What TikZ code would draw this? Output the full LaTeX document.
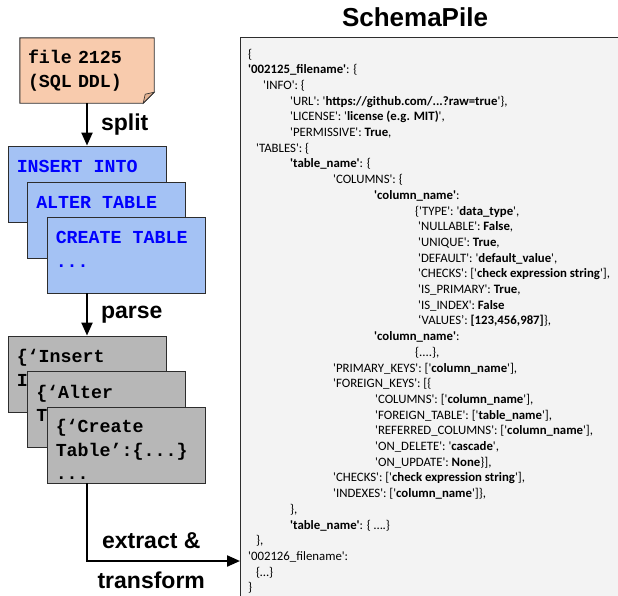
\documentclass[tikz,border=0pt]{standalone}
\usepackage{fontspec}
\setmainfont{Liberation Sans}
\newfontfamily\stmtfont{Liberation Mono}
\newfontfamily\jsonfont{Carlito}
\usetikzlibrary{arrows.meta,positioning,backgrounds}
\definecolor{fileOrange}{RGB}{248,203,173}
\definecolor{fileFold}{RGB}{226,178,146}
\definecolor{stmtBlue}{RGB}{164,194,244}
\definecolor{dictGray}{RGB}{183,183,183}
\definecolor{panelGray}{RGB}{243,243,243}
\definecolor{edgeGray}{RGB}{45,45,45}
\newcommand{\jb}[1]{\textbf{#1}}
\newcommand{\jind}[1]{\hspace*{#1pt}}

\begin{document}
\begin{tikzpicture}[
  x=1pt, y=-1pt,
  stack/.style={draw=edgeGray,line width=0.9pt,minimum width=158pt,minimum height=76pt,inner sep=0pt},
  stmt/.style={stack,fill=stmtBlue},
  dict/.style={stack,fill=dictGray},
  mono/.style={font=\stmtfont\bfseries\fontsize{18.3}{23.5}\selectfont,align=left,inner sep=0pt},
  stmttxt/.style={mono,text=blue},
  lbl/.style={font=\bfseries\fontsize{23}{26}\selectfont,inner sep=0pt},
  arrow/.style={-{Triangle[length=13pt,width=11pt]},line width=2.2pt}
]
\useasboundingbox (0,0) rectangle (618,595);

% input file
\node[mono,minimum width=134pt,minimum height=65pt,text width=118pt,inner sep=8pt] (file) at (87,70.5) {file 2125\\(SQL DDL)};
\begin{scope}[on background layer]
\filldraw[draw=edgeGray,line width=0.9pt,fill=fileOrange] (file.north west) -- (file.north east) -- ([yshift=11pt]file.south east) -- ([xshift=-11pt]file.south east) -- (file.south west) -- cycle;
\filldraw[draw=edgeGray,line width=0.6pt,fill=fileFold] ([yshift=11pt]file.south east) -- ([xshift=-11pt]file.south east) -- ([xshift=-9pt,yshift=9pt]file.south east) -- cycle;
\end{scope}

% split statements (text anchored at the baseline of its last line)
\node[stmt] (s1) at (87,184) {};
\node[stmttxt,anchor=base west] (s1t) at ([xshift=9pt,yshift=-27pt]s1.north west) {INSERT INTO};
\node[stmt] (s2) at (106.5,220) {};
\node[stmttxt,anchor=base west] (s2t) at ([xshift=9pt,yshift=-27pt]s2.north west) {ALTER TABLE};
\node[stmt] (s3) at (126,255) {};
\node[stmttxt,anchor=base west] (s3t) at ([xshift=9pt,yshift=-50.5pt]s3.north west) {CREATE TABLE\\...};

% parsed dicts
\node[dict] (d1) at (87,374) {};
\node[mono,anchor=base west] (d1t) at ([xshift=9pt,yshift=-50.5pt]d1.north west) {\{‘Insert\\Into’:\{...\}};
\node[dict] (d2) at (106.5,409.5) {};
\node[mono,anchor=base west] (d2t) at ([xshift=9pt,yshift=-50.5pt]d2.north west) {\{‘Alter\\Table’:\{...\}};
\node[dict] (d3) at (126,445) {};
\node[mono,anchor=base west] (d3t) at ([xshift=9pt,yshift=-73pt]d3.north west) {\{‘Create\\Table’:\{...\}\\...};

% SchemaPile panel
\node[font=\bfseries\fontsize{26}{30}\selectfont,inner sep=0pt] (title) at (415,17) {SchemaPile};
\node[draw=edgeGray,line width=1.2pt,fill=panelGray,minimum width=400pt,minimum height=580pt,anchor=north west] (panel) at (240,37) {};
\node[font=\jsonfont\fontsize{12.8}{15.7}\selectfont,align=left,inner sep=0pt,anchor=base west] (schema) at (248,591.8) {%
\jind{0}\{\\
\jind{0}\jb{'002125\_filename'}: \{\\
\jind{15}'INFO': \{\\
\jind{42}'URL': '\jb{https://github.com/...?raw=true}'\},\\
\jind{42}'LICENSE': '\jb{license (e.g. MIT)}',\\
\jind{42}'PERMISSIVE': \jb{True},\\
\jind{8}'TABLES': \{\\
\jind{42}\jb{'table\_name'}: \{\\
\jind{85}'COLUMNS': \{\\
\jind{126}\jb{'column\_name'}:\\
\jind{167}\{'TYPE': '\jb{data\_type}',\\
\jind{170}'NULLABLE': \jb{False},\\
\jind{170}'UNIQUE': \jb{True},\\
\jind{170}'DEFAULT': '\jb{default\_value}',\\
\jind{170}'CHECKS': ['\jb{check expression string}'],\\
\jind{170}'IS\_PRIMARY': \jb{True},\\
\jind{170}'IS\_INDEX': \jb{False}\\
\jind{170}‘VALUES’: \jb{[123,456,987]}\},\\
\jind{126}\jb{'column\_name'}:\\
\jind{167}\{....\},\\
\jind{85}'PRIMARY\_KEYS': ['\jb{column\_name}'],\\
\jind{85}'FOREIGN\_KEYS': [\{\\
\jind{127}'COLUMNS': ['\jb{column\_name}'],\\
\jind{127}'FOREIGN\_TABLE': ['\jb{table\_name}'],\\
\jind{127}'REFERRED\_COLUMNS': ['\jb{column\_name}'],\\
\jind{127}'ON\_DELETE': '\jb{cascade}',\\
\jind{127}'ON\_UPDATE': \jb{None}\}],\\
\jind{85}'CHECKS': ['\jb{check expression string}'],\\
\jind{85}'INDEXES': ['\jb{column\_name}']\},\\
\jind{42}\},\\
\jind{42}\jb{'table\_name'}: \{ ….\}\\
\jind{8}\},\\
\jind{0}'002126\_filename':\\
\jind{8}\{…\}\\
\jind{0}\}};
\coordinate (entry) at (panel.west |- 0,561);

% pipeline arrows
\draw[arrow] (file) -- node[lbl,right=13pt]{split} (s1);
\draw[arrow] (s3.south -| d1.south) -- node[lbl,right=13pt]{parse} (d1);
\draw[arrow] (d3.south -| d1.south) |- node[lbl,pos=0.71,above=11pt]{extract \&} node[lbl,pos=0.71,below=10pt]{transform} (entry);
\end{tikzpicture}
\end{document}
